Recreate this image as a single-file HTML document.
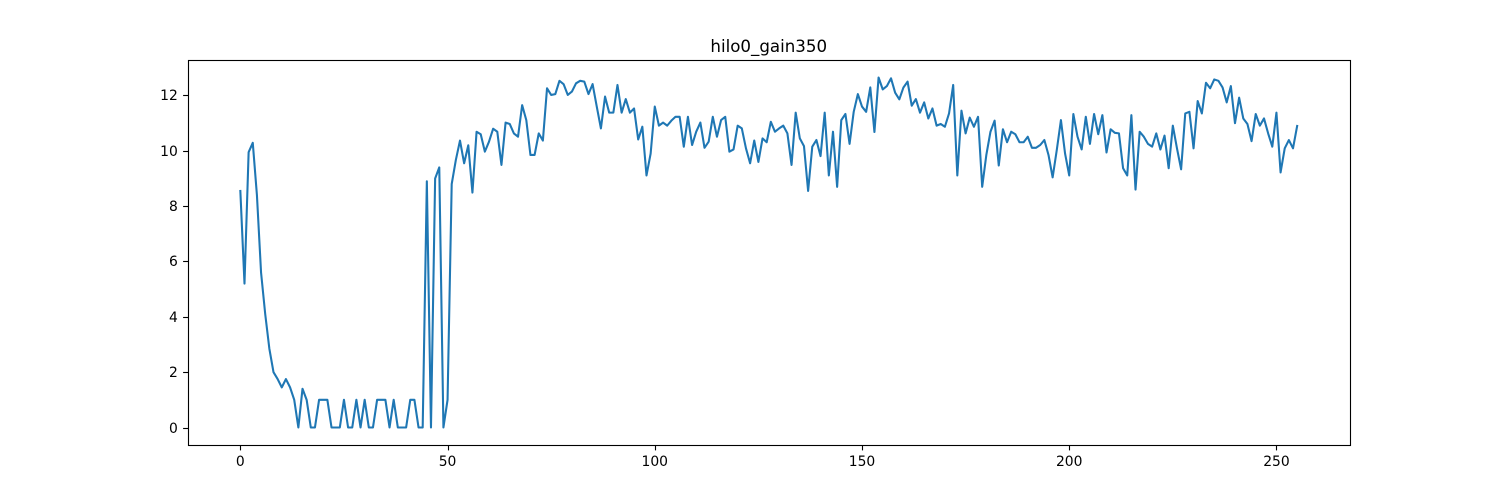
<!DOCTYPE html>
<html lang="en">
<head>
<meta charset="utf-8">
<title>hilo0_gain350</title>
<style>
  html, body { margin: 0; padding: 0; background: #fff; }
  svg { display: block; }
  text { font-family: "DejaVu Sans", "Liberation Sans", sans-serif; fill: #000; }
</style>
</head>
<body>
<svg id="chart" xmlns="http://www.w3.org/2000/svg" width="1500" height="500" viewBox="0 0 1500 500">
  <rect x="0" y="0" width="1500" height="500" fill="#ffffff"/>
  <rect x="187.5" y="60" width="1162.5" height="385" fill="#ffffff"/>
  <g id="ticks"></g>
  <path id="series" fill="none" stroke="#1f77b4" stroke-width="2.08" stroke-linejoin="round" stroke-linecap="square"/>
  <rect x="188.5" y="60.5" width="1162" height="385" fill="none" stroke="#000" stroke-width="1.11"/>
  <text x="768.75" y="52" font-size="16.67" text-anchor="middle">hilo0_gain350</text>
</svg>
<script>
const xTickValues = [0, 50, 100, 150, 200, 250];
const yTickValues = [0, 2, 4, 6, 8, 10, 12];
const seriesValues = [
  8.55, 5.2, 9.95, 10.29, 8.4, 5.6, 4.1, 2.85, 2.0, 1.75,
  1.45, 1.75, 1.45, 1.0, 0, 1.4, 1.0, 0, 0, 1,
  1, 1, 0, 0, 0, 1, 0, 0, 1, 0,
  1, 0, 0, 1, 1, 1, 0, 1, 0, 0,
  0, 1, 1, 0, 0, 8.9, 0, 9.0, 9.4, 0,
  1, 8.8, 9.67, 10.37, 9.55, 10.2, 8.49, 10.69, 10.6, 9.97,
  10.33, 10.8, 10.69, 9.49, 11.02, 10.97, 10.63, 10.51, 11.65, 11.11,
  9.85, 9.85, 10.63, 10.37, 12.26, 12.02, 12.05, 12.53, 12.41, 12.02,
  12.14, 12.44, 12.53, 12.5, 12.05, 12.41, 11.6, 10.81, 11.96, 11.38,
  11.38, 12.38, 11.38, 11.87, 11.38, 11.53, 10.41, 10.87, 9.11, 9.9,
  11.6, 10.91, 11.02, 10.91, 11.09, 11.23, 11.23, 10.15, 11.23, 10.21,
  10.69, 11.02, 10.11, 10.33, 11.23, 10.51, 11.11, 11.23, 9.97, 10.05,
  10.91, 10.81, 10.09, 9.55, 10.37, 9.6, 10.45, 10.31, 11.05, 10.69,
  10.81, 10.91, 10.63, 9.49, 11.38, 10.45, 10.17, 8.55, 10.15, 10.39,
  9.81, 11.38, 9.11, 10.69, 8.7, 11.11, 11.33, 10.25, 11.41, 12.05,
  11.6, 11.41, 12.29, 10.68, 12.65, 12.22, 12.34, 12.62, 12.1, 11.86,
  12.29, 12.5, 11.63, 11.87, 11.38, 11.75, 11.17, 11.53, 10.91, 10.97,
  10.87, 11.35, 12.38, 9.11, 11.45, 10.63, 11.2, 10.87, 11.23, 8.7,
  9.85, 10.69, 11.09, 9.47, 10.78, 10.31, 10.69, 10.6, 10.31, 10.31,
  10.51, 10.11, 10.11, 10.21, 10.39, 9.85, 9.04, 10.03, 11.11, 9.9,
  9.11, 11.33, 10.51, 10.05, 11.23, 10.25, 11.33, 10.6, 11.29, 9.94,
  10.78, 10.65, 10.63, 9.37, 9.11, 11.29, 8.6, 10.69, 10.51, 10.25,
  10.15, 10.63, 10.05, 10.55, 9.37, 10.91, 10.09, 9.33, 11.35, 11.41,
  10.09, 11.8, 11.35, 12.46, 12.26, 12.58, 12.53, 12.29, 11.75, 12.34,
  11.0, 11.92, 11.17, 10.97, 10.35, 11.33, 10.91, 11.17, 10.63, 10.15,
  11.38, 9.22, 10.09, 10.39, 10.09, 10.9
];

const svgNS = "http://www.w3.org/2000/svg";
const plot = { left: 187.5, right: 1350, top: 60, bottom: 445 };
const xDomain = [-12.75, 267.75];
const yDomain = [-0.6325, 13.2825];

function xScale(v) {
  return plot.left + (v - xDomain[0]) / (xDomain[1] - xDomain[0]) * (plot.right - plot.left);
}
function yScale(v) {
  return plot.bottom - (v - yDomain[0]) / (yDomain[1] - yDomain[0]) * (plot.bottom - plot.top);
}
function snap(p) {
  return Math.floor(p + 0.5) + 0.5;
}

const tickGroup = document.getElementById("ticks");

xTickValues.forEach(function (v) {
  const x = snap(xScale(v));
  const mark = document.createElementNS(svgNS, "line");
  
  
  mark.setAttribute("x1", x);
  mark.setAttribute("x2", x);
  mark.setAttribute("y1", plot.bottom + 0.5);
  mark.setAttribute("y2", plot.bottom + 5.4);
  mark.setAttribute("stroke", "#000");
  mark.setAttribute("stroke-width", "1.11");
  tickGroup.appendChild(mark);

  const label = document.createElementNS(svgNS, "text");
  
  
  label.setAttribute("x", xScale(v));
  label.setAttribute("y", plot.bottom + 21);
  label.setAttribute("font-size", "13.89");
  label.setAttribute("text-anchor", "middle");
  label.textContent = String(v);
  tickGroup.appendChild(label);
});

yTickValues.forEach(function (v) {
  const y = snap(yScale(v));
  const mark = document.createElementNS(svgNS, "line");
  
  
  mark.setAttribute("x1", plot.left - 4.4);
  mark.setAttribute("x2", plot.left + 0.5);
  mark.setAttribute("y1", y);
  mark.setAttribute("y2", y);
  mark.setAttribute("stroke", "#000");
  mark.setAttribute("stroke-width", "1.11");
  tickGroup.appendChild(mark);

  const label = document.createElementNS(svgNS, "text");
  
  
  label.setAttribute("x", plot.left - 9.7);
  label.setAttribute("y", Math.floor(y) + 5);
  label.setAttribute("font-size", "13.89");
  label.setAttribute("text-anchor", "end");
  label.textContent = String(v);
  tickGroup.appendChild(label);
});

const pathData = seriesValues.map(function (v, i) {
  return (i === 0 ? "M" : "L") + xScale(i).toFixed(2) + " " + yScale(v).toFixed(2);
}).join(" ");
document.getElementById("series").setAttribute("d", pathData);
</script>
</body>
</html>
